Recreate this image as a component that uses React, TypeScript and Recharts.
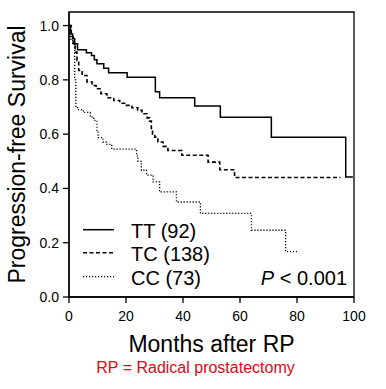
import { LineChart, Line, XAxis, YAxis, ReferenceArea, Legend } from 'recharts';

// Kaplan-Meier estimates (months, survival)
const TT_MONTHS = [0, 0.5, 1.3, 2.0, 3.0, 6.1, 7.9, 8.9, 9.8, 12.2, 13.9, 20.4, 30.3, 31.8, 44.1, 53.1, 71.0, 97.1, 99.6];
const TT_SURV = [1.0, 0.969, 0.951, 0.933, 0.911, 0.9, 0.89, 0.874, 0.859, 0.843, 0.826, 0.81, 0.756, 0.734, 0.704, 0.662, 0.589, 0.442, 0.442];

const TC_MONTHS = [0, 0.8, 1.5, 2.2, 2.8, 3.4, 4.6, 6.3, 8.1, 9.5, 11.2, 13.3, 15.7, 17.8, 19.8, 22.1, 24.1, 25.6, 27.4, 28.3, 28.9, 29.3, 30.1, 31.2, 33.0, 34.7, 39.6, 48.8, 52.9, 58.1, 95.3];
const TC_SURV = [1.0, 0.96, 0.933, 0.902, 0.871, 0.835, 0.816, 0.792, 0.779, 0.767, 0.749, 0.734, 0.724, 0.714, 0.706, 0.697, 0.688, 0.675, 0.66, 0.648, 0.614, 0.6, 0.589, 0.571, 0.555, 0.54, 0.522, 0.497, 0.469, 0.44, 0.44];

const CC_MONTHS = [0, 0.6, 1.3, 2.0, 2.4, 3.0, 5.0, 7.5, 8.7, 9.8, 10.2, 11.9, 13.3, 15.0, 23.7, 24.2, 25.4, 27.2, 29.5, 31.8, 37.7, 46.1, 64.0, 76.0, 80.4];
const CC_SURV = [1.0, 0.95, 0.93, 0.8, 0.7, 0.69, 0.68, 0.663, 0.651, 0.614, 0.587, 0.571, 0.5625, 0.545, 0.52, 0.5, 0.467, 0.449, 0.424, 0.387, 0.35, 0.308, 0.246, 0.167, 0.167];

const X_TICKS = [0, 20, 40, 60, 80, 100];
const Y_TICKS = [0, 0.2, 0.4, 0.6, 0.8, 1.0];

const SERIES = [
    { key: 'TT', label: 'TT (92)', months: TT_MONTHS, surv: TT_SURV, dash: undefined, width: 1.5 },
    { key: 'TC', label: 'TC (138)', months: TC_MONTHS, surv: TC_SURV, dash: '4 2.5', width: 1.6 },
    { key: 'CC', label: 'CC (73)', months: CC_MONTHS, surv: CC_SURV, dash: '1.2 1.8', width: 1.3 },
];

const FONT = '"Liberation Sans", Arial, sans-serif';

function KmLegend() {
    return (
        <div style={{ width: 264, fontFamily: FONT, fontSize: 20, color: '#000' }}>
            {SERIES.map((s, i) => (
                <div key={s.key} style={{ display: 'flex', alignItems: 'flex-start', height: 23.5, lineHeight: '23.5px' }}>
                    <svg width={48} height={23.5} style={{ flex: 'none' }}>
                        <line x1={0} x2={31} y1={9.7} y2={9.7} stroke="#000" strokeWidth={s.width} strokeDasharray={s.dash} />
                    </svg>
                    <span>{s.label}</span>
                    {i === SERIES.length - 1 && (
                        <span style={{ marginLeft: 'auto' }}>
                            <i>P</i> &lt; 0.001
                        </span>
                    )}
                </div>
            ))}
        </div>
    );
}

export default function App() {
    return (
        <div style={{ position: 'absolute', left: 0, top: 0, width: 386, height: 389, background: '#fff', fontFamily: FONT }}>
            <LineChart width={386} height={389} margin={{ top: 12, right: 32, bottom: 0, left: 0 }}>
                <XAxis
                    type="number"
                    dataKey="m"
                    domain={[0, 100]}
                    ticks={X_TICKS}
                    height={92}
                    tickSize={6}
                    tickMargin={8}
                    stroke="#000"
                    strokeWidth={1.3}
                    tick={{ fontSize: 14, fill: '#000' }}
                    label={(props: any) => {
                        const vb = props.viewBox;
                        const cx = vb.x + vb.width / 2;
                        return (
                            <g>
                                <text x={cx} y={vb.y + 55} textAnchor="middle" fontSize={23} fill="#000">Months after RP</text>
                                <text x={cx - 16} y={vb.y + 76} textAnchor="middle" fontSize={16} fill="#e30613">RP = Radical prostatectomy</text>
                            </g>
                        );
                    }}
                />
                <YAxis
                    type="number"
                    domain={[0, 1.05]}
                    ticks={Y_TICKS}
                    width={69}
                    tickSize={6}
                    tickMargin={4}
                    stroke="#000"
                    strokeWidth={1.3}
                    tickFormatter={(v: number) => v.toFixed(1)}
                    tick={{ fontSize: 14, fill: '#000' }}
                    label={(props: any) => {
                        const vb = props.viewBox;
                        const x = vb.x + 25;
                        const y = vb.y + vb.height / 2;
                        return (
                            <text x={x} y={y} transform={`rotate(-90, ${x}, ${y})`} textAnchor="middle" fontSize={23} fill="#000">
                                Progression-free Survival
                            </text>
                        );
                    }}
                />
                <ReferenceArea x1={0} x2={100} y1={0} y2={1.05} fill="none" stroke="#000" strokeWidth={1.3} />
                {SERIES.map((s) => (
                    <Line
                        key={s.key}
                        data={s.months.map((m, i) => ({ m, s: s.surv[i] }))}
                        dataKey="s"
                        type="stepAfter"
                        stroke="#000"
                        strokeWidth={s.width}
                        strokeDasharray={s.dash}
                        dot={false}
                        activeDot={false}
                        isAnimationActive={false}
                    />
                ))}
                <Legend
                    layout="vertical"
                    align="center"
                    verticalAlign="middle"
                    wrapperStyle={{ left: 83, top: 219.6, width: 264 }}
                    content={() => <KmLegend />}
                />
            </LineChart>
        </div>
    );
}
